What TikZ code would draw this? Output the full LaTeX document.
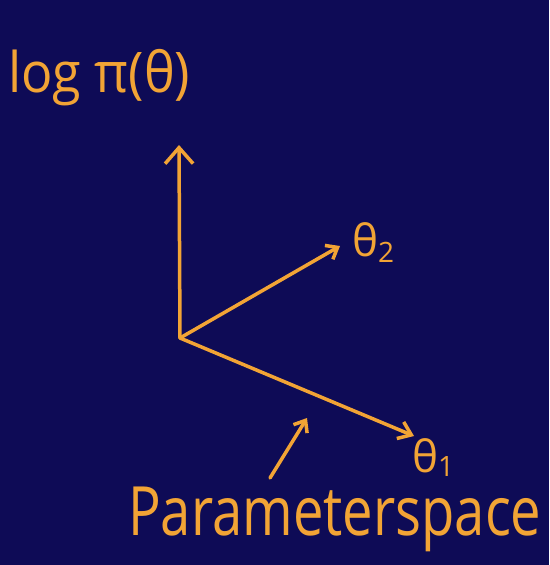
\documentclass[tikz,border=0pt]{standalone}
\usepackage{fontspec}
\setmainfont{Open Sans}
\usetikzlibrary{arrows.meta}
\definecolor{bg}{HTML}{0E0B56}
\definecolor{ink}{HTML}{F2A435}
\begin{document}
\begin{tikzpicture}[x=1pt,y=-1pt,
  axis/.style={draw=ink, line width=3.5pt, line cap=round, line join=round},
  lbl/.style={text=ink, inner sep=0pt}]
\fill[bg] (0,0) rectangle (549,565);
\useasboundingbox (0,0) rectangle (549,565);
\coordinate (O) at (180,338);
\coordinate (Ytip) at (179,145);
\coordinate (T2tip) at (340,246);
\coordinate (T1tip) at (414,436);
\coordinate (Pfrom) at (270,478);
\coordinate (Pto) at (307,418);
\node[lbl, font=\fontsize{56}{56}\selectfont, anchor=base west, xscale=0.93] (ylab) at (8,92) {log π(θ)};
\node[lbl, font=\fontsize{44}{44}\selectfont, anchor=base west] (t2) at (352,256) {θ\raisebox{-6pt}{\fontsize{28}{28}\selectfont 2}};
\node[lbl, font=\fontsize{44}{44}\selectfont, anchor=base west] (t1) at (412,472) {θ\raisebox{-4pt}{\fontsize{28}{28}\selectfont 1}};
\node[lbl, font=\fontsize{68}{68}\selectfont, anchor=base west, xscale=0.8] (ps) at (128,535) {Parameterspace};
\draw[axis, -{Straight Barb[length=16pt, width=28pt, line width=3.5pt]}] (O) -- (Ytip);
\draw[axis, -{Straight Barb[length=10pt, width=16pt, line width=3.5pt]}] (O) -- (T2tip);
\draw[axis, -{Straight Barb[length=12pt, width=18pt, line width=3.5pt]}] (O) -- (T1tip);
\draw[axis, -{Straight Barb[length=10pt, width=16pt, line width=3.5pt]}] (Pfrom) -- (Pto);
\end{tikzpicture}
\end{document}
